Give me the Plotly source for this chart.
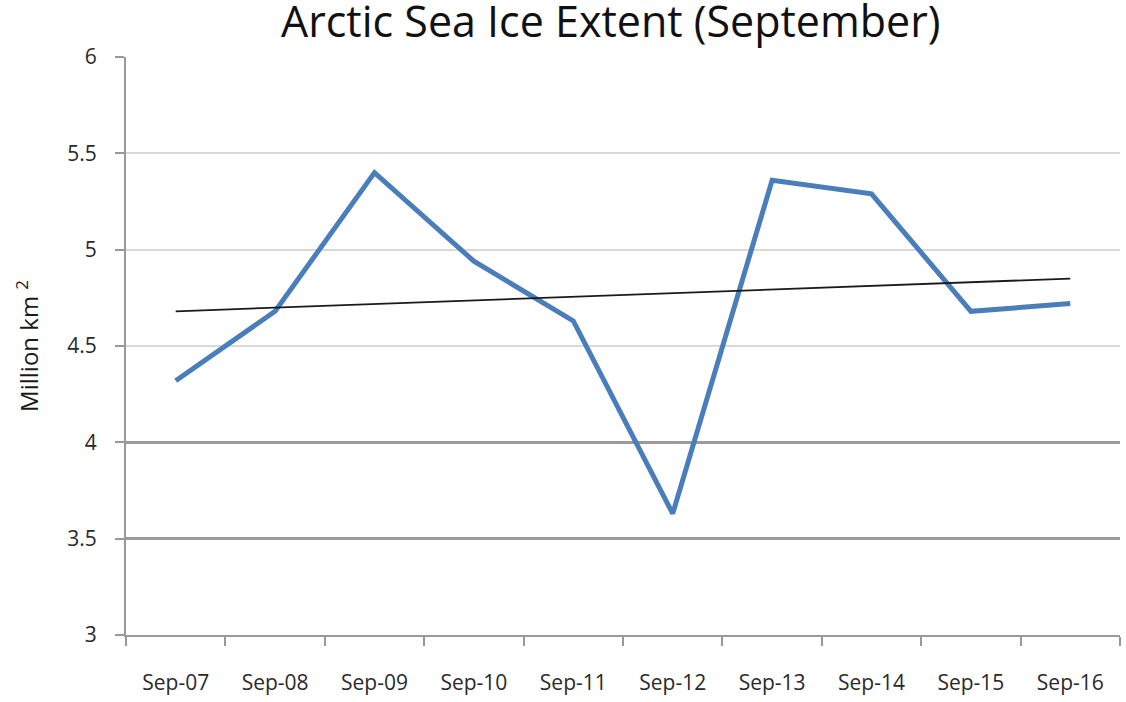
import plotly.graph_objects as go

categories = ["Sep-07", "Sep-08", "Sep-09", "Sep-10", "Sep-11",
              "Sep-12", "Sep-13", "Sep-14", "Sep-15", "Sep-16"]
extent = [4.32, 4.68, 5.40, 4.94, 4.63, 3.63, 5.36, 5.29, 4.68, 4.72]
trend_x = ["Sep-07", "Sep-16"]
trend_y = [4.68, 4.85]
y_ticks = [3, 3.5, 4, 4.5, 5, 5.5, 6]
y_dark_grid = [3.5, 4]

FONT = "Open Sans"

fig = go.Figure()
fig.add_trace(go.Scatter(x=categories, y=extent, mode="lines",
                         line=dict(color="#4a7ebb", width=5),
                         showlegend=False, hoverinfo="skip"))
fig.add_trace(go.Scatter(x=trend_x, y=trend_y, mode="lines",
                         line=dict(color="#1a1a1a", width=1.8),
                         showlegend=False, hoverinfo="skip"))
# invisible trace on second axis to host darker grid lines
fig.add_trace(go.Scatter(x=categories[:1], y=[None], yaxis="y2",
                         showlegend=False, hoverinfo="skip"))

fig.update_layout(
    width=1126, height=702,
    margin=dict(l=126, r=6, t=57, b=67, autoexpand=False),
    paper_bgcolor="white", plot_bgcolor="white",
    xaxis=dict(type="category", categoryorder="array", categoryarray=categories,
               range=[-0.5, 9.5], showgrid=False, showline=True,
               linecolor="#999999", linewidth=2, ticks="outside",
               tickson="boundaries", ticklen=9, tickcolor="#999999", tickwidth=2,
               ticklabelstandoff=28, automargin=False,
               tickfont=dict(family=FONT, size=21, color="#2a2a2a"),
               zeroline=False),
    yaxis=dict(range=[3, 6], tickvals=y_ticks,
               ticktext=[f"{v:g}" for v in y_ticks],
               showgrid=True, gridcolor="#d9d9d9", gridwidth=1.5,
               showline=True, linecolor="#999999", linewidth=2,
               ticks="outside", ticklen=9, tickcolor="#999999", tickwidth=2,
               ticklabelstandoff=14, automargin=False,
               tickfont=dict(family=FONT, size=21, color="#2a2a2a"),
               zeroline=False,
               title=dict(text="Million km <sup>2</sup>",
                          font=dict(family=FONT, size=24, color="#1a1a1a"),
                          standoff=22)),
    yaxis2=dict(range=[3, 6], overlaying="y", side="left", tickvals=y_dark_grid,
                showticklabels=False, showgrid=True, gridcolor="#9a9a9a",
                gridwidth=2.5, zeroline=False, showline=False, ticks=""),
    annotations=[dict(text="Arctic Sea Ice Extent (September)", xref="paper",
                      yref="paper", x=0.487, y=1.0, yshift=5, yanchor="bottom",
                      showarrow=False,
                      font=dict(family=FONT, size=43, color="#111111"))],
)

fig.write_html("out.html",
               config={"displayModeBar": False},
               post_script="document.body.style.margin='0';"
                           "document.body.style.overflow='hidden';")
